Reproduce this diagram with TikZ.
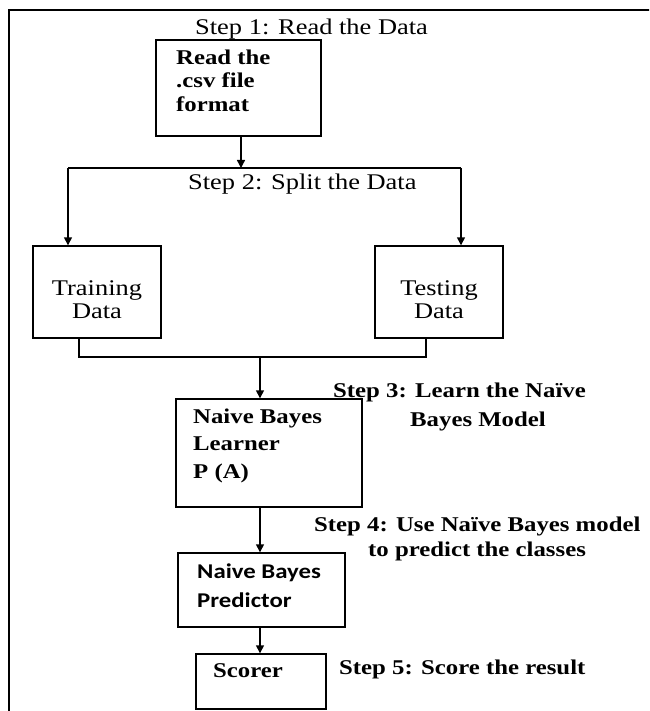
\documentclass[tikz,border=0pt]{standalone}
\usepackage{fontspec}
\setmainfont{Liberation Serif}[FakeStretch=1.18]
\newfontfamily\sansfam{Carlito}[FakeStretch=1.18]
\usetikzlibrary{arrows.meta}
\tikzset{
  box/.style={draw, line width=1.4pt, inner sep=0pt},
  conn/.style={draw, line width=1.4pt},
  arr/.style={conn, -{Triangle[length=8pt,width=8pt]}},
  txt/.style={anchor=base west, inner sep=0pt, font=\fontsize{22.4}{26}\selectfont},
  btxt/.style={anchor=base west, inner sep=0pt, font=\fontsize{21}{24}\selectfont\bfseries},
  stxt/.style={anchor=base west, inner sep=0pt, font=\sansfam\fontsize{21}{24}\selectfont\bfseries},
}
\begin{document}
\begin{tikzpicture}[x=1pt,y=-1pt]
\clip (0,0) rectangle (649,711);
\draw[line width=2.4pt] (9,720) -- (9,10) -- (660,10);

% boxes
\node[box, minimum width=165pt, minimum height=96pt] (b1) at (238.5,88) {};
\node[box, minimum width=128pt, minimum height=92pt] (tr) at (97,292) {};
\node[box, minimum width=128pt, minimum height=92pt] (te) at (439,292) {};
\node[box, minimum width=186pt, minimum height=108pt] (le) at (269,453) {};
\node[box, minimum width=167pt, minimum height=74pt] (pr) at (261.5,590) {};
\node[box, minimum width=130pt, minimum height=55pt] (sc) at (261,681.5) {};

% box texts
\node[btxt] (t1a) at (176,65) {Read the};
\node[btxt] (t1b) at (176,88) {.csv file};
\node[btxt] (t1c) at (176,112) {format};
\node[txt, anchor=base] (ttr1) at (97,295) {Training};
\node[txt, anchor=base] (ttr2) at (97,318) {Data};
\node[txt, anchor=base] (tte1) at (439,295) {Testing};
\node[txt, anchor=base] (tte2) at (439,318) {Data};
\node[btxt] (tl1) at (193,423) {Naive Bayes};
\node[btxt] (tl2) at (193,450) {Learner};
\node[btxt] (tl3) at (193,478) {P (A)};
\node[stxt] (tp1) at (197,578) {Naive Bayes};
\node[stxt] (tp2) at (197,607) {Predictor};
\node[btxt] (ts1) at (213,677) {Scorer};

% step labels
\node[txt] (s1) at (195,35) {Step 1: Read the Data};
\node[txt] (s2) at (188,190) {Step 2: Split the Data};
\node[btxt] (s3a) at (333,397) {Step 3: Learn the Naïve};
\node[btxt] (s3b) at (410,426) {Bayes Model};
\node[btxt] (s4a) at (314,531) {Step 4: Use Naïve Bayes model};
\node[btxt] (s4b) at (368,556) {to predict the classes};
\node[btxt] (s5) at (339,674) {Step 5: Score the result};

% connector coordinates
\coordinate (sp) at (241,168);
\coordinate (sl) at (68,168);
\coordinate (sr) at (461,168);
\coordinate (jl) at (79,357);
\coordinate (jr) at (426,357);
\coordinate (jm) at (260,357);

% connectors
\draw[arr] (b1.south -| sp) -- (sp);
\draw[conn] (sl) -- (sr);
\draw[arr] (sl) -- (tr.north -| sl);
\draw[arr] (sr) -- (te.north -| sr);
\draw[conn] (tr.south -| jl) -- (jl) -- (jr) -- (te.south -| jr);
\draw[arr] (jm) -- (le.north -| jm);
\draw[arr] (le.south -| jm) -- (pr.north -| jm);
\draw[arr] (pr.south -| jm) -- (sc.north -| jm);
\end{tikzpicture}
\end{document}
